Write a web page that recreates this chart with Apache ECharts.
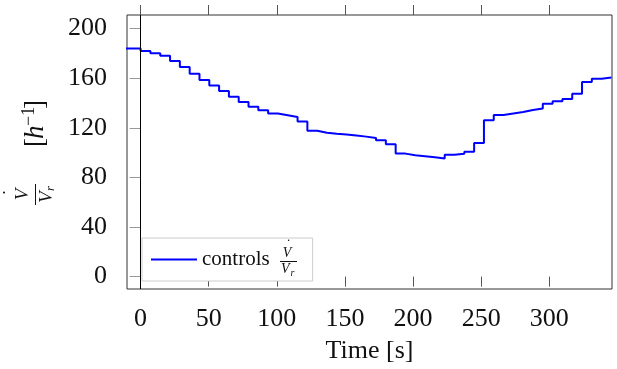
<!DOCTYPE html>
<html>
<head>
<meta charset="utf-8">
<script src="https://cdn.jsdelivr.net/npm/echarts@6/dist/echarts.min.js"></script>
<style>html,body{margin:0;padding:0;background:#fff;}#c{width:617px;height:369px;}</style>
</head>
<body>
<div id="c"></div>
<script>
const times = [-14.4, -7.2, 0, 7.2, 14.4, 21.6, 28.8, 36, 43.2, 50.4, 57.6, 64.8, 72, 79.2, 86.4, 93.6, 100.8, 108, 115.2, 122.4, 129.6, 136.8, 144, 151.2, 158.4, 165.6, 172.8, 180, 187.2, 194.4, 201.6, 208.8, 216, 223.2, 230.4, 237.6, 244.8, 252, 259.2, 266.4, 273.6, 280.8, 288, 295.2, 302.4, 309.6, 316.8, 324, 331.2, 338.4, 345.6];
const controls = [184, 184, 182, 180.2, 178.2, 173.8, 169, 163.7, 158.6, 154.2, 149.6, 145, 140.8, 136.9, 134.1, 131.5, 130.1, 128.7, 125.2, 117.6, 116.1, 115.3, 114.6, 113.8, 112.9, 111.8, 110, 106.8, 99.2, 97.9, 97.1, 96.3, 95.3, 98.2, 99, 100.7, 107.7, 126.1, 130.4, 131.6, 132.8, 134.4, 135.5, 139.5, 141.5, 143.3, 147.4, 157, 159.5, 160.6, 160.6];
const xTicks = [0, 50, 100, 150, 200, 250, 300];
const yTicks = [0, 40, 80, 120, 160, 200];

const FONT = "'Liberation Serif', 'DejaVu Serif', serif";
const chart = echarts.init(document.getElementById('c'), null, {renderer: 'canvas'});
const data = times.map((t, i) => [t, controls[i]]);

function txt(x, y, s, font, align, va) {
  return {type: 'text', x: x, y: y, z: 100, style: {text: s, font: font, fill: '#111', align: align, verticalAlign: va}};
}

chart.setOption({
  animation: false,
  backgroundColor: '#fff',
  grid: {left: 127, top: 15, right: 5, bottom: 80, show: true, borderColor: '#333', borderWidth: 1, backgroundColor: 'transparent'},
  xAxis: [{
    type: 'value', min: -10, max: 346, position: 'bottom',
    axisLine: {show: false}, splitLine: {show: false},
    axisTick: {show: true, customValues: xTicks, length: 10, lineStyle: {color: '#555'}},
    axisLabel: {customValues: xTicks, fontFamily: FONT, fontSize: 26, color: '#111', margin: 17},
    name: 'Time [s]', nameLocation: 'middle', nameGap: 49,
    nameTextStyle: {fontFamily: FONT, fontSize: 26, color: '#111'}
  }, {
    type: 'value', min: -10, max: 346, position: 'top',
    axisLine: {show: false}, splitLine: {show: false},
    axisTick: {show: true, customValues: xTicks, length: 10, lineStyle: {color: '#555'}},
    axisLabel: {show: false}
  }],
  yAxis: {
    type: 'value', min: -10, max: 211,
    axisLine: {show: false}, splitLine: {show: false},
    axisTick: {show: true, customValues: yTicks, length: 11, lineStyle: {color: '#999'}},
    axisLabel: {customValues: yTicks, fontFamily: FONT, fontSize: 26, color: '#111', margin: 20}
  },
  legend: {
    left: 142, top: 238, backgroundColor: '#fff', borderColor: '#ccc', borderWidth: 1,
    padding: [9, 9, 9, 9], itemWidth: 46, itemHeight: 2, icon: 'rect',
    itemStyle: {color: '#0000ff'},
    data: ['controls'],
    formatter: function () { return '{a|controls}{b|}'; },
    textStyle: {fontFamily: FONT, fontSize: 21, color: '#111', lineHeight: 25,
      rich: {a: {fontFamily: FONT, fontSize: 21, color: '#111', lineHeight: 25}, b: {width: 34, lineHeight: 25}}}
  },
  series: [{
    name: 'controls', type: 'line', step: 'end', data: data,
    symbol: 'none', showSymbol: false,
    lineStyle: {color: '#0000ff', width: 2}, itemStyle: {color: '#0000ff'},
    clip: true,
    markLine: {
      silent: true, symbol: 'none', label: {show: false},
      lineStyle: {color: '#000', width: 1, type: 'solid'},
      data: [{xAxis: 0}]
    }
  }],
  graphic: [
    {
      type: 'group', x: 0, y: 250, rotation: Math.PI / 2, z: 100,
      children: [
        {type: 'line', z: 100, shape: {x1: 45, y1: 35.5, x2: 66, y2: 35.5}, style: {stroke: '#111', lineWidth: 1}},
        txt(55.5, 32, 'V', "italic 19px " + FONT, 'center', 'bottom'),
        txt(57.5, 21, '\u02D9', "19px " + FONT, 'center', 'bottom'),
        txt(47, 37, 'V', "italic 19px " + FONT, 'left', 'top'),
        txt(59, 44, 'r', "italic 13px " + FONT, 'left', 'top'),
        txt(103, 36, '[', "27px " + FONT, 'left', 'middle'),
        txt(111, 36, 'h', "italic 27px " + FONT, 'left', 'middle'),
        txt(124, 29, '\u22121', "18px " + FONT, 'left', 'middle'),
        txt(141, 36, ']', "27px " + FONT, 'left', 'middle')
      ]
    },
    {
      type: 'group', x: 0, y: 0, z: 100,
      children: [
        {type: 'line', z: 100, shape: {x1: 280, y1: 261.5, x2: 297, y2: 261.5}, style: {stroke: '#111', lineWidth: 1}},
        txt(287, 260, 'V', "italic 14px " + FONT, 'center', 'bottom'),
        txt(288.5, 252, '\u02D9', "14px " + FONT, 'center', 'bottom'),
        txt(281, 262.5, 'V', "italic 14px " + FONT, 'left', 'top'),
        txt(290.5, 268, 'r', "italic 10px " + FONT, 'left', 'top')
      ]
    }
  ]
});
</script>
</body>
</html>
